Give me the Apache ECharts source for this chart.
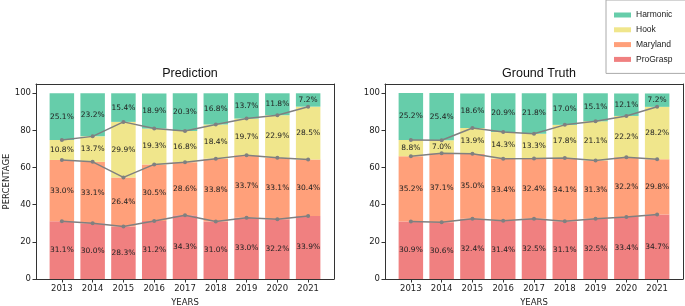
<!DOCTYPE html>
<html>
<head>
<meta charset="utf-8">
<script src="https://cdn.jsdelivr.net/npm/echarts@6/dist/echarts.min.js"></script>
<style>
  html, body { margin: 0; padding: 0; background: #fff; }
  #chart { width: 685px; height: 306px; }
</style>
</head>
<body>
<div id="chart"></div>
<script>
// categories
const years = ['2013', '2014', '2015', '2016', '2017', '2018', '2019', '2020', '2021']
const yTicks = [0, 20, 40, 60, 80, 100]

// Prediction
const predProGrasp = [31.1, 30.0, 28.3, 31.2, 34.3, 31.0, 33.0, 32.2, 33.9]
const predMaryland = [33.0, 33.1, 26.4, 30.5, 28.6, 33.8, 33.7, 33.1, 30.4]
const predHook = [10.8, 13.7, 29.9, 19.3, 16.8, 18.4, 19.7, 22.9, 28.5]
const predHarmonic = [25.1, 23.2, 15.4, 18.9, 20.3, 16.8, 13.7, 11.8, 7.2]

// Ground Truth
const gtProGrasp = [30.9, 30.6, 32.4, 31.4, 32.5, 31.1, 32.5, 33.4, 34.7]
const gtMaryland = [35.2, 37.1, 35.0, 33.4, 32.4, 34.1, 31.3, 32.2, 29.8]
const gtHook = [8.8, 7.0, 13.9, 14.3, 13.3, 17.8, 21.1, 22.2, 28.2]
const gtHarmonic = [25.2, 25.4, 18.6, 20.9, 21.8, 17.0, 15.1, 12.1, 7.2]

const names = ['ProGrasp', 'Maryland', 'Hook', 'Harmonic']
const colors = {
  ProGrasp: '#F08080',
  Maryland: '#FFA07A',
  Hook: '#F0E68C',
  Harmonic: '#66CDAA'
}

const FONT = 'DejaVu Sans'
const tickIdx = years.map((y, i) => i)

function makeAxes (gi, showName) {
  const x = {
    type: 'value',
    gridIndex: gi,
    min: -0.84,
    max: 8.84,
    name: 'YEARS',
    nameLocation: 'middle',
    nameGap: 17,
    nameTextStyle: { fontFamily: FONT, fontSize: 8.5, color: '#222' },
    splitLine: { show: false },
    axisLine: { onZero: false, lineStyle: { color: '#333' } },
    axisTick: { length: 3.5, customValues: tickIdx, lineStyle: { color: '#333' } },
    axisLabel: {
      customValues: tickIdx,
      fontFamily: FONT, fontSize: 8.5, color: '#222', margin: 5,
      formatter: (v) => years[Math.round(v)]
    }
  }
  const y = {
    type: 'value',
    gridIndex: gi,
    min: 0,
    max: 105,
    name: showName ? 'PERCENTAGE' : '',
    nameLocation: 'middle',
    nameGap: 22,
    nameTextStyle: { fontFamily: FONT, fontSize: 8.5, color: '#222' },
    splitLine: { show: false },
    axisLine: { show: true, onZero: false, lineStyle: { color: '#333' } },
    axisTick: { show: true, length: 3.5, customValues: yTicks, lineStyle: { color: '#333' } },
    axisLabel: { customValues: yTicks, fontFamily: FONT, fontSize: 8.5, color: '#222', margin: 5 }
  }
  // frame: top and right edges
  const xTop = {
    type: 'value', gridIndex: gi, position: 'top', min: -0.84, max: 8.84,
    axisLine: { show: true, onZero: false, lineStyle: { color: '#333' } },
    axisTick: { show: false }, axisLabel: { show: false }, splitLine: { show: false }
  }
  const yRight = {
    type: 'value', gridIndex: gi, position: 'right', min: 0, max: 105,
    axisLine: { show: true, onZero: false, lineStyle: { color: '#333' } },
    axisTick: { show: false }, axisLabel: { show: false }, splitLine: { show: false }
  }
  return { x, y, xTop, yRight }
}

function makeSeries (gi, parts) {
  const out = []
  const cum = years.map(() => 0)
  const tops = []
  parts.forEach((vals, k) => {
    const name = names[k]
    out.push({
      name: name,
      type: 'bar',
      xAxisIndex: gi,
      yAxisIndex: gi,
      stack: 'total' + gi,
      barWidth: 24.5,
      // value first so the stack runs on the y dimension
      encode: { x: 1, y: 0 },
      itemStyle: { color: colors[name] },
      label: {
        show: true,
        position: 'inside',
        fontFamily: FONT,
        fontSize: 7.5,
        color: '#222',
        formatter: (p) => p.value[0].toFixed(1) + '%'
      },
      data: vals.map((v, i) => [v, i])
    })
    vals.forEach((v, i) => { cum[i] += v })
    if (k < parts.length - 1) tops.push(cum.map((c) => +c.toFixed(1)))
  })
  tops.forEach((t, k) => {
    out.push({
      name: 'boundary' + gi + '_' + k,
      type: 'line',
      xAxisIndex: gi,
      yAxisIndex: gi,
      z: 5,
      symbol: 'circle',
      symbolSize: 4,
      lineStyle: { color: '#808080', width: 1.5 },
      itemStyle: { color: '#808080' },
      label: { show: false },
      data: t.map((v, i) => [i, v])
    })
  })
  return out
}

const a0 = makeAxes(0, true)
const a1 = makeAxes(1, false)

const TITLE_FONT = 'Liberation Sans'
const option = {
  animation: false,
  backgroundColor: '#fff',
  title: [
    { text: 'Prediction', left: 185, top: 62, textAlign: 'center',
      textStyle: { fontFamily: TITLE_FONT, fontSize: 12.5, fontWeight: 'normal', color: '#111' } },
    { text: 'Ground Truth', left: 534, top: 62, textAlign: 'center',
      textStyle: { fontFamily: TITLE_FONT, fontSize: 12.5, fontWeight: 'normal', color: '#111' } }
  ],
  legend: {
    data: ['Harmonic', 'Hook', 'Maryland', 'ProGrasp'],
    orient: 'vertical',
    left: 606,
    top: 0,
    padding: [10, 20, 9, 8],
    itemGap: 4.8,
    itemWidth: 17,
    itemHeight: 5,
    icon: 'rect',
    borderColor: '#aaa',
    borderWidth: 1,
    textStyle: { fontFamily: 'Liberation Sans', fontSize: 8.5, color: '#222', lineHeight: 10 }
  },
  grid: [
    { left: 36, top: 84, width: 298, height: 195, outerBoundsMode: 'none' },
    { left: 385, top: 84, width: 298, height: 195, outerBoundsMode: 'none' }
  ],
  xAxis: [a0.x, a1.x, a0.xTop, a1.xTop],
  yAxis: [a0.y, a1.y, a0.yRight, a1.yRight],
  series: [
    ...makeSeries(0, [predProGrasp, predMaryland, predHook, predHarmonic]),
    ...makeSeries(1, [gtProGrasp, gtMaryland, gtHook, gtHarmonic])
  ]
}

const chart = echarts.init(document.getElementById('chart'), null, { renderer: 'canvas' })
chart.setOption(option)
</script>
</body>
</html>
